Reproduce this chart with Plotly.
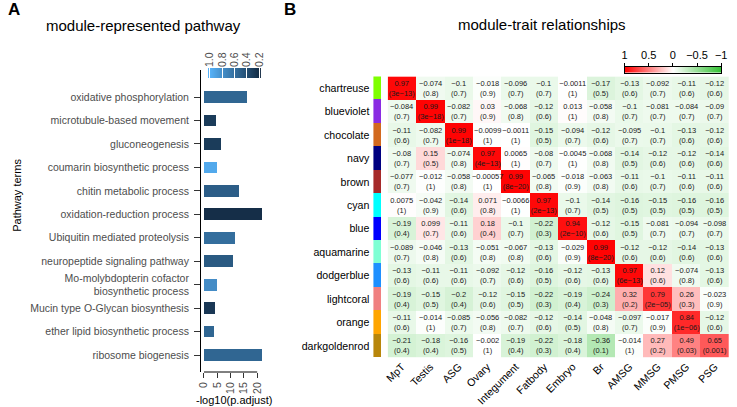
import plotly.graph_objects as go

W, H = 737, 407


def fx(p):
    return p / W


def fy(p):
    return 1 - p / H


FONT = "Liberation Sans, Arial, sans-serif"

# ---------------- Panel A data ----------------
pathways = [
    "oxidative phosphorylation",
    "microtubule-based movement",
    "gluconeogenesis",
    "coumarin biosynthetic process",
    "chitin metabolic process",
    "oxidation-reduction process",
    "Ubiquitin mediated proteolysis",
    "neuropeptide signaling pathway",
    "Mo-molybdopterin cofactor<br>biosynthetic process",
    "Mucin type O-Glycan biosynthesis",
    "ether lipid biosynthetic process",
    "ribosome biogenesis",
]
neg_log10_padj = [16.0, 4.5, 6.3, 4.8, 13.0, 22.0, 11.6, 11.0, 4.8, 4.1, 3.7, 22.0]
bar_colour_value = [0.55, 0.30, 0.30, 0.95, 0.50, 0.22, 0.60, 0.48, 0.78, 0.28, 0.55, 0.55]
bar_x_ticks = [0, 5, 10, 15, 20]
bar_colour_ticks = [1.0, 0.8, 0.6, 0.4, 0.2]

# ---------------- Panel B data ----------------
modules = ["chartreuse", "blueviolet", "chocolate", "navy", "brown", "cyan", "blue",
           "aquamarine", "dodgerblue", "lightcoral", "orange", "darkgoldenrod"]
traits = ["MpT", "Testis", "ASG", "Ovary", "Integument", "Fatbody", "Embryo", "Br",
          "AMSG", "MMSG", "PMSG", "PSG"]
corr = [
    [0.97, -0.074, -0.1, -0.018, -0.096, -0.1, -0.0011, -0.17, -0.13, -0.092, -0.11, -0.12],
    [-0.084, 0.99, -0.082, 0.03, -0.068, -0.12, 0.013, -0.058, -0.1, -0.081, -0.084, -0.09],
    [-0.11, -0.082, 0.99, -0.0099, -0.0011, -0.15, -0.094, -0.12, -0.095, -0.1, -0.13, -0.12],
    [-0.08, 0.15, -0.074, 0.97, 0.0065, -0.08, -0.0045, -0.068, -0.14, -0.12, -0.12, -0.14],
    [-0.077, -0.012, -0.058, -0.00057, 0.99, -0.065, -0.018, -0.063, -0.11, -0.1, -0.11, -0.11],
    [0.0075, -0.042, -0.14, 0.071, -0.0066, 0.97, -0.1, -0.14, -0.16, -0.15, -0.16, -0.16],
    [-0.19, 0.099, -0.11, 0.18, -0.1, -0.22, 0.94, -0.12, -0.15, -0.081, -0.094, -0.098],
    [-0.089, -0.046, -0.13, -0.051, -0.067, -0.13, -0.029, 0.99, -0.12, -0.12, -0.14, -0.13],
    [-0.13, -0.11, -0.11, -0.092, -0.12, -0.16, -0.12, -0.13, 0.97, 0.12, -0.074, -0.13],
    [-0.19, -0.15, -0.2, -0.12, -0.15, -0.22, -0.19, -0.24, 0.32, 0.79, 0.26, -0.023],
    [-0.11, -0.014, -0.085, -0.056, -0.082, -0.12, -0.14, -0.048, -0.097, -0.017, 0.84, -0.12],
    [-0.21, -0.18, -0.16, -0.002, -0.19, -0.22, -0.18, -0.36, -0.014, 0.27, 0.49, 0.65],
]
pval = [
    [3e-13, 0.8, 0.7, 0.9, 0.7, 0.7, 1, 0.5, 0.6, 0.7, 0.6, 0.6],
    [0.7, 3e-18, 0.7, 0.9, 0.8, 0.6, 1, 0.8, 0.7, 0.7, 0.7, 0.7],
    [0.6, 0.7, 1e-18, 1, 1, 0.5, 0.7, 0.6, 0.7, 0.7, 0.6, 0.6],
    [0.7, 0.5, 0.8, 4e-13, 1, 0.7, 1, 0.8, 0.5, 0.6, 0.6, 0.6],
    [0.7, 1, 0.8, 1, 8e-20, 0.8, 0.9, 0.8, 0.6, 0.7, 0.6, 0.6],
    [1, 0.9, 0.6, 0.8, 1, 2e-13, 0.7, 0.5, 0.5, 0.5, 0.5, 0.5],
    [0.4, 0.7, 0.6, 0.4, 0.7, 0.3, 2e-10, 0.6, 0.5, 0.7, 0.7, 0.7],
    [0.7, 0.8, 0.6, 0.8, 0.8, 0.6, 0.9, 8e-20, 0.6, 0.6, 0.6, 0.6],
    [0.6, 0.6, 0.6, 0.7, 0.6, 0.5, 0.6, 0.6, 6e-13, 0.6, 0.8, 0.6],
    [0.4, 0.5, 0.4, 0.6, 0.5, 0.3, 0.4, 0.3, 0.2, 2e-05, 0.3, 0.9],
    [0.6, 1, 0.7, 0.8, 0.7, 0.6, 0.5, 0.8, 0.7, 0.9, 1e-06, 0.6],
    [0.4, 0.4, 0.5, 1, 0.4, 0.3, 0.4, 0.1, 1, 0.2, 0.03, 0.001],
]
corr_colour_ticks = [1, 0.5, 0, -0.5, -1]


def fmt(v):
    return f"{v:g}".replace("-", "\u2212")


cell_text = [[f"{fmt(r)}<br>({fmt(p)})" for r, p in zip(rr, pr)] for rr, pr in zip(corr, pval)]

blue_scale = [[0, "#132B43"], [1, "#56B1F7"]]
gwr_scale = [[0, "#30C030"], [0.5, "#FFFFFF"], [1, "#FF0000"]]

fig = go.Figure()

# Panel A bars
fig.add_trace(go.Bar(
    x=neg_log10_padj, y=pathways, orientation="h", width=0.5,
    marker=dict(color=bar_colour_value, colorscale=blue_scale, cmin=0.2, cmax=1.0,
                line=dict(width=0)),
    xaxis="x", yaxis="y", showlegend=False, hoverinfo="x+y",
))

# Panel A colour legend
fig.add_trace(go.Heatmap(
    z=[bar_colour_ticks, bar_colour_ticks], x=bar_colour_ticks, y=[0, 1],
    colorscale=blue_scale, zmin=0.2, zmax=1.0, zsmooth="best", showscale=False,
    xaxis="x2", yaxis="y2", hoverinfo="skip",
))

# Panel B module colour strip
fig.add_trace(go.Bar(
    x=[1] * len(modules), y=modules, orientation="h", width=1,
    marker=dict(color=modules, line=dict(width=0)),
    xaxis="x3", yaxis="y3", showlegend=False, hoverinfo="y",
))

# Panel B heatmap
fig.add_trace(go.Heatmap(
    z=corr, x=traits, y=modules, colorscale=gwr_scale, zmin=-1, zmax=1,
    showscale=False, text=cell_text, texttemplate="%{text}",
    textfont=dict(size=7.5, color="#1a1a1a", family=FONT),
    xaxis="x4", yaxis="y4", hoverinfo="x+y+z",
))

# Panel B colour legend
fig.add_trace(go.Heatmap(
    z=[corr_colour_ticks, corr_colour_ticks], x=corr_colour_ticks, y=[0, 1],
    colorscale=gwr_scale, zmin=-1, zmax=1, zsmooth="best", showscale=False,
    xaxis="x5", yaxis="y5", hoverinfo="skip",
))

n = len(pathways)
step = (355 - 97) / (n - 1)
y_top = -(97 - 70) / step
y_bot = (n - 1) + (372 - 355) / step
x_per = (256 - 202) / 20.0
x_lo = -(202 - 199) / x_per
x_hi = 20 + (265 - 256) / x_per

axis_font = dict(family=FONT, size=10.5, color="#4D4D4D")

fig.update_layout(
    width=W, height=H, margin=dict(l=0, r=0, t=0, b=0),
    paper_bgcolor="white", plot_bgcolor="white",
    font=dict(family=FONT, color="black"),
    bargap=0,
    xaxis=dict(domain=[fx(199), fx(265)], anchor="y", range=[x_lo, x_hi],
               tickvals=bar_x_ticks, tickangle=-90, ticks="outside", ticklen=5,
               tickcolor="#333", showline=False,
               showgrid=False, zeroline=False, tickfont=axis_font),
    yaxis=dict(domain=[fy(372), fy(70)], anchor="x", type="category",
               categoryorder="array", categoryarray=pathways, range=[y_bot, y_top],
               ticks="outside", ticklen=6, tickcolor="#333", showline=True,
               linecolor="black", linewidth=1, showgrid=False, zeroline=False,
               tickfont=axis_font, ticklabelstandoff=3),
    xaxis2=dict(domain=[fx(206), fx(260)], anchor="y2", range=[1.03, 0.17],
                side="top", tickvals=bar_colour_ticks,
                ticktext=[f"{v:.1f}" for v in bar_colour_ticks], tickangle=-90,
                ticks="inside", ticklen=10, tickcolor="white", tickwidth=1,
                layer="above traces", showline=False, showgrid=False, zeroline=False,
                tickfont=dict(family=FONT, size=10.5, color="#4D4D4D")),
    yaxis2=dict(domain=[fy(78), fy(68)], anchor="x2", range=[-0.5, 1.5],
                showticklabels=False, ticks="", showgrid=False, zeroline=False),
    xaxis3=dict(domain=[fx(374), fx(382)], anchor="y3", range=[0, 1],
                showticklabels=False, ticks="", showgrid=False, zeroline=False),
    yaxis3=dict(domain=[fy(357.6), fy(76.4)], anchor="x3", type="category",
                categoryorder="array", categoryarray=modules,
                range=[len(modules) - 0.5, -0.5], ticks="", showgrid=False,
                zeroline=False, tickfont=dict(family=FONT, size=10.6, color="black"),
                ticklabelstandoff=3),
    xaxis4=dict(domain=[fx(388.5), fx(735)], anchor="y4", type="category",
                tickangle=-45, ticks="", showgrid=False, zeroline=False,
                tickfont=dict(family=FONT, size=10.6, color="black")),
    yaxis4=dict(domain=[fy(357.6), fy(76.4)], anchor="x4", type="category",
                categoryorder="array", categoryarray=modules,
                range=[len(modules) - 0.5, -0.5], showticklabels=False, ticks="",
                showgrid=False, zeroline=False),
    xaxis5=dict(domain=[fx(629), fx(727)], anchor="y5", range=[1, -1], side="top",
                tickvals=corr_colour_ticks, ticktext=[fmt(v) for v in corr_colour_ticks],
                ticks="outside", ticklen=3, tickcolor="black", showline=True,
                mirror=True, linecolor="black", linewidth=1, showgrid=False,
                zeroline=False, tickfont=dict(family=FONT, size=11, color="black")),
    yaxis5=dict(domain=[fy(72.5), fy(67)], anchor="x5", range=[-0.5, 1.5],
                showticklabels=False, ticks="", showline=True, mirror=True,
                linecolor="black", linewidth=1, showgrid=False, zeroline=False),
)

# bottom axis line of panel A spanning first to last tick (R style)
fig.add_shape(type="line", xref="x", yref="y domain", x0=bar_x_ticks[0], x1=bar_x_ticks[-1],
              y0=0, y1=0, line=dict(color="black", width=1))

ann = dict(xref="paper", yref="paper", showarrow=False, xanchor="center", yanchor="middle")
fig.add_annotation(text="<b>A</b>", x=fx(9), y=fy(9), font=dict(family=FONT, size=17), **ann)
fig.add_annotation(text="<b>B</b>", x=fx(289), y=fy(9), font=dict(family=FONT, size=17), **ann)
fig.add_annotation(text="module-represented pathway", x=fx(141), y=fy(25),
                   font=dict(family=FONT, size=15), **ann)
fig.add_annotation(text="module-trait relationships", x=fx(545), y=fy(24),
                   font=dict(family=FONT, size=15), **ann)
fig.add_annotation(text="Pathway terms", x=fx(12), y=fy(195), textangle=-90,
                   font=dict(family=FONT, size=11), **ann)
fig.add_annotation(text="-log10(p.adjust)", x=fx(232), y=fy(400),
                   font=dict(family=FONT, size=11), **ann)

fig.write_html(
    "out.html",
    config={"displayModeBar": False},
    post_script="document.body.style.margin='0px';document.body.style.overflow='hidden';",
)
